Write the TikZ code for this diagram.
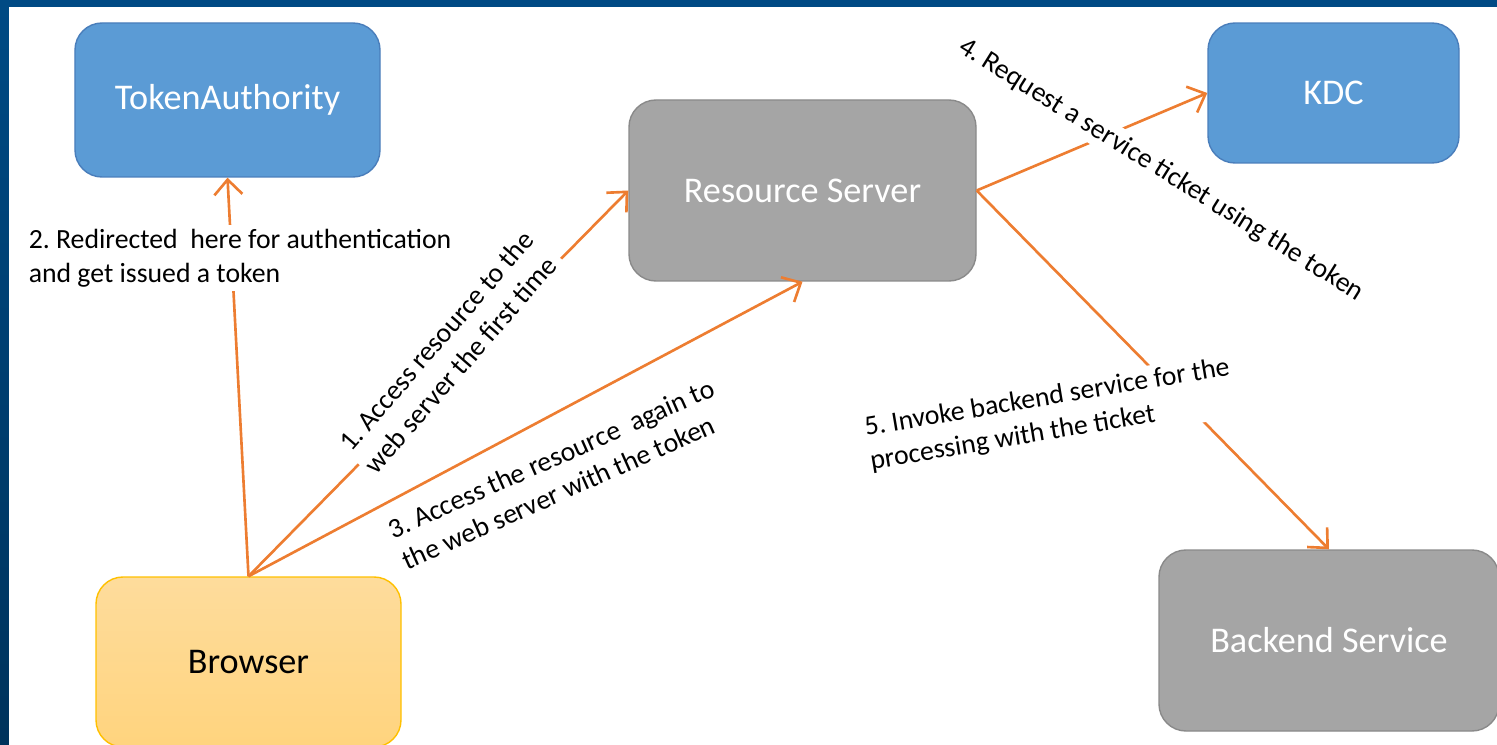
\documentclass[tikz,border=0pt]{standalone}
\usepackage{fontspec}
\setmainfont{Carlito}
\usetikzlibrary{arrows.meta}
\frenchspacing

\definecolor{boxblue}{HTML}{5B9BD5}
\definecolor{boxblueline}{HTML}{4A7EBB}
\definecolor{boxgray}{HTML}{A5A5A5}
\definecolor{boxgrayline}{HTML}{8A8A8A}
\definecolor{boxyellowtop}{HTML}{FEDC9C}
\definecolor{boxyellowbot}{HTML}{FFD47E}
\definecolor{boxyellowline}{HTML}{FFC000}
\definecolor{flow}{HTML}{ED7D31}
\definecolor{frameblue}{HTML}{004A84}
\definecolor{framedark}{HTML}{00335C}

\begin{document}
\begin{tikzpicture}[
    box/.style={rectangle, rounded corners=0.27cm, line width=0.4pt, inner sep=0pt, font=\fontsize{10.3}{12.4}\selectfont},
    bluebox/.style={box, fill=boxblue, draw=boxblueline, text=white},
    graybox/.style={box, fill=boxgray, draw=boxgrayline, text=white},
    yellowbox/.style={box, top color=boxyellowtop, bottom color=boxyellowbot, draw=boxyellowline, text=black},
    flowline/.style={draw=flow, line width=0.75pt, -{Straight Barb[length=1.5mm, width=2.8mm]}},
    lbl/.style={fill=white, inner sep=1pt, align=left, font=\fontsize{7.9}{9.7}\selectfont}
  ]
  \useasboundingbox (0,0) rectangle (14.97,7.44);
  \begin{scope}
    \clip (0,0) rectangle (14.97,7.44);

    % --- frame ---
    \fill[frameblue] (0,7.37) rectangle (14.97,7.44);
    \shade[top color=frameblue, bottom color=framedark] (0,0) rectangle (0.09,7.44);

    % --- boxes ---
    \node[bluebox, minimum width=3.05cm, minimum height=1.54cm] (ta) at (2.275,6.44) {TokenAuthority};
    \node[bluebox, minimum width=2.51cm, minimum height=1.40cm] (kdc) at (13.335,6.51) {KDC};
    \node[graybox, minimum width=3.47cm, minimum height=1.81cm] (rs) at (8.025,5.535) {Resource Server};
    \node[yellowbox, minimum width=3.05cm, minimum height=1.70cm] (br) at (2.485,0.82) {Browser};
    \node[graybox, minimum width=3.40cm, minimum height=1.81cm] (be) at (13.29,1.035) {Backend Service};

    % --- connectors ---
    \draw[flowline] (br.north) -- (ta.south);
    \draw[flowline] (br.north) -- (rs.west);
    \draw[flowline] (br.north) -- (rs.south);
    \draw[flowline] (rs.east) -- (kdc.west);
    \draw[flowline] (rs.east) -- (be.north);

    % --- labels ---
    \node[lbl] (l2) at (2.40,4.86) {2. Redirected~ here for authentication\\and get issued a token};
    \node[lbl, rotate=49] (l1) at (4.49,3.92) {1. Access resource to the\\web server the first time};
    \node[lbl, rotate=24] (l3) at (5.58,2.70) {3. Access the resource~ again to\\the web server with the token};
    \node[lbl, rotate=-32] (l4) at (11.61,5.74) {4. Request a service ticket using the token};
    \node[lbl, rotate=9.5] (l5) at (10.50,3.29) {5. Invoke backend service for the\\processing with the ticket};
  \end{scope}
\end{tikzpicture}
\end{document}
